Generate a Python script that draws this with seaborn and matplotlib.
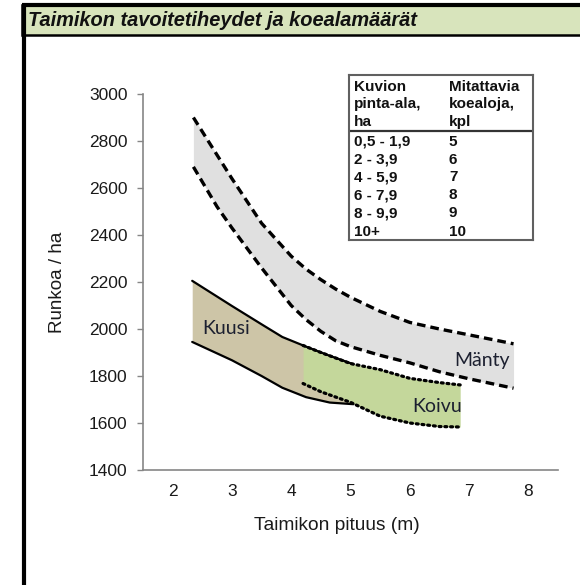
import matplotlib
matplotlib.use("Agg")
import matplotlib.pyplot as plt
from matplotlib.patches import Rectangle
from matplotlib.lines import Line2D
import seaborn as sns

# Mänty (pine) band, dashed borders
manty_x = [2.35, 2.75, 3.0, 3.5, 4.0, 4.25, 4.5, 4.75, 5.0, 5.5, 6.0, 6.5, 7.0, 7.75]
manty_upper = [2900, 2740, 2640, 2450, 2310, 2255, 2210, 2170, 2135, 2075, 2028, 2000, 1975, 1937]
manty_lower = [2690, 2520, 2430, 2260, 2100, 2040, 1990, 1950, 1925, 1888, 1856, 1818, 1788, 1748]

# Kuusi (spruce) band, solid borders
kuusi_x = [2.33, 3.0, 3.5, 3.85, 4.25, 4.65, 5.05]
kuusi_upper = [2205, 2098, 2020, 1966, 1925, 1886, 1850]
kuusi_lower = [1945, 1867, 1800, 1750, 1710, 1687, 1680]

# Koivu (birch) band, dotted borders
koivu_x = [4.2, 4.5, 5.0, 5.5, 6.0, 6.5, 6.85]
koivu_upper = [1930, 1900, 1853, 1827, 1790, 1772, 1762]
koivu_lower = [1768, 1733, 1688, 1629, 1600, 1585, 1583]

# table
table_head = [["Kuvion", "pinta-ala,", "ha"], ["Mitattavia", "koealoja,", "kpl"]]
area_ranges = ["0,5 - 1,9", "2 - 3,9", "4 - 5,9", "6 - 7,9", "8 - 9,9", "10+"]
plot_counts = ["5", "6", "7", "8", "9", "10"]

x_ticks = [2, 3, 4, 5, 6, 7, 8]
y_ticks = [1400, 1600, 1800, 2000, 2200, 2400, 2600, 2800, 3000]

sns.set_style("white")
plt.rcParams['font.family'] = ['Liberation Sans', 'DejaVu Sans']

W, H = 580, 585
fig = plt.figure(figsize=(5.8, 5.85), dpi=100)

# frame and title bar
fig.add_artist(Rectangle((22 / W, 1 - 35 / H), 1, 30 / H, transform=fig.transFigure,
                         facecolor='#d8e4bc', edgecolor='black', lw=1.8))
fig.add_artist(Line2D([22 / W, 1], [1 - 5 / H, 1 - 5 / H], transform=fig.transFigure,
                      color='black', lw=3, solid_capstyle='butt'))
fig.add_artist(Line2D([24 / W, 24 / W], [0, 1 - 4 / H], transform=fig.transFigure,
                      color='black', lw=3, solid_capstyle='butt'))
fig.text(28 / W, 1 - 21 / H, "Taimikon tavoitetiheydet ja koealamäärät",
         fontsize=14.4, fontweight='bold', fontstyle='italic', va='center', ha='left',
         color='#111111')

ax = fig.add_axes([143 / W, 1 - 470 / H, 415 / W, 376 / H])

ax.fill_between(manty_x, manty_lower, manty_upper, color='#e0e0e0', lw=0)
ax.fill_between(kuusi_x, kuusi_lower, kuusi_upper, color='#cdc5a7', lw=0)
ax.fill_between(koivu_x, koivu_lower, koivu_upper, color='#c4d79b', lw=0)

dash = (0, (2.6, 1.5))
dot = (0, (0.6, 1.2))
sns.lineplot(x=manty_x, y=manty_upper, ax=ax, color='black', lw=2.4, linestyle=dash)
sns.lineplot(x=manty_x, y=manty_lower, ax=ax, color='black', lw=2.4, linestyle=dash)
sns.lineplot(x=kuusi_x, y=kuusi_upper, ax=ax, color='black', lw=1.6)
sns.lineplot(x=kuusi_x, y=kuusi_lower, ax=ax, color='black', lw=1.6)
sns.lineplot(x=koivu_x, y=koivu_upper, ax=ax, color='black', lw=2.3, linestyle=dot,
             dash_capstyle='round')
sns.lineplot(x=koivu_x, y=koivu_lower, ax=ax, color='black', lw=2.3, linestyle=dot,
             dash_capstyle='round')

lab = dict(fontsize=14, family=['Lato', 'DejaVu Sans'], color='#1c2030',
           ha='center', va='center')
ax.text(2.90, 2004, "Kuusi", **lab)
ax.text(7.21, 1864, "Mänty", **lab)
ax.text(6.46, 1672, "Koivu", **lab)

ax.set_xlim(1.5, 8.5)
ax.set_ylim(1400, 3000)
ax.set_xticks(x_ticks)
ax.set_yticks(y_ticks)
ax.tick_params(axis='x', length=0, pad=10, labelsize=12.5, labelcolor='#1a1a1a')
ax.tick_params(axis='y', direction='out', length=4, width=1, color='#868686',
               pad=7, labelsize=12.5, labelcolor='#1a1a1a', left=True)
for s in ['top', 'right']:
    ax.spines[s].set_visible(False)
for s in ['left', 'bottom']:
    ax.spines[s].set_color('#868686')
    ax.spines[s].set_linewidth(1.2)
ax.set_xlabel("Taimikon pituus (m)", fontsize=13.8, color='#1a1a1a')
ax.set_ylabel("Runkoa / ha", fontsize=13.5, color='#1a1a1a')
ax.xaxis.set_label_coords((337 - 143) / 415, -(517 - 470) / 376)
ax.yaxis.set_label_coords(-(143 - 66) / 415, 0.5)

# inset table
axt = fig.add_axes([349 / W, 1 - 240 / H, 184 / W, 165 / H])
axt.set_xlim(0, 1)
axt.set_ylim(0, 1)
axt.set_xticks([])
axt.set_yticks([])
axt.set_facecolor('white')
for s in axt.spines.values():
    s.set_color('#606060')
    s.set_linewidth(1.5)
axt.axhline((240 - 131) / 165, color='#333333', lw=1.6)
head_y = [(240 - py) / 165 for py in [87, 104, 122]]
row_y = [(240 - py) / 165 for py in [142, 160, 177, 195, 213, 232]]
tk = dict(fontsize=11, fontweight='bold', va='center', ha='left', color='#111111')
for col, cx in zip(table_head, [0.027, 0.543]):
    for t, yy in zip(col, head_y):
        axt.text(cx, yy, t, **tk)
for a, c, yy in zip(area_ranges, plot_counts, row_y):
    axt.text(0.027, yy, a, **tk)
    axt.text(0.543, yy, c, **tk)

fig.savefig("out.png", dpi=100)
